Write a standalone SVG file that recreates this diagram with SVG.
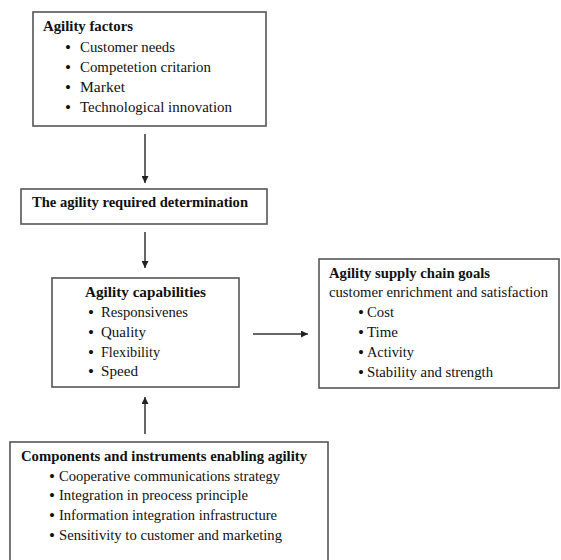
<svg xmlns="http://www.w3.org/2000/svg" width="561" height="560" viewBox="0 0 561 560">
<style>
.box{fill:#fff;stroke:#555;stroke-width:1.6}
text{font-family:"Liberation Serif","Times New Roman",serif;font-size:14px;fill:#111}
.b{font-weight:bold}
.u{font-size:17px}
.conn{stroke:#333;stroke-width:1.5;fill:none;marker-end:url(#ah)}
</style>
<defs>
<marker id="ah" viewBox="0 0 10 10" refX="10" refY="5" markerWidth="7" markerHeight="7" markerUnits="userSpaceOnUse" orient="auto">
<path d="M0,0 L10,5 L0,10 z" fill="#222"/>
</marker>
</defs>
<rect width="561" height="560" fill="#fff"/>
<g id="connectors">
<line class="conn" x1="145" y1="134" x2="145" y2="183"/>
<line class="conn" x1="145" y1="232" x2="145" y2="268"/>
<line class="conn" x1="253" y1="334" x2="308" y2="334"/>
<line class="conn" x1="145" y1="434" x2="145" y2="397"/>
</g>
<g id="agility-factors">
<rect class="box" x="33" y="12" width="233" height="114"/>
<text class="b" x="43" y="31" textLength="90" lengthAdjust="spacingAndGlyphs">Agility factors</text>
<text class="u" x="65" y="53">•</text><text x="80" y="52" textLength="95" lengthAdjust="spacingAndGlyphs">Customer needs</text>
<text class="u" x="65" y="73">•</text><text x="80" y="72" textLength="131" lengthAdjust="spacingAndGlyphs">Competetion critarion</text>
<text class="u" x="65" y="93">•</text><text x="80" y="92" textLength="45" lengthAdjust="spacingAndGlyphs">Market</text>
<text class="u" x="65" y="113">•</text><text x="80" y="112" textLength="152" lengthAdjust="spacingAndGlyphs">Technological innovation</text>
</g>
<g id="agility-required">
<rect class="box" x="21" y="189" width="246" height="35"/>
<text class="b" x="32" y="207" textLength="216" lengthAdjust="spacingAndGlyphs">The agility required determination</text>
</g>
<g id="agility-capabilities">
<rect class="box" x="52" y="278" width="187" height="109"/>
<text class="b" x="85" y="297" textLength="121" lengthAdjust="spacingAndGlyphs">Agility capabilities</text>
<text class="u" x="88" y="318">•</text><text x="101" y="317" textLength="87" lengthAdjust="spacingAndGlyphs">Responsivenes</text>
<text class="u" x="88" y="338">•</text><text x="101" y="337" textLength="45" lengthAdjust="spacingAndGlyphs">Quality</text>
<text class="u" x="88" y="358">•</text><text x="101" y="357" textLength="59" lengthAdjust="spacingAndGlyphs">Flexibility</text>
<text class="u" x="88" y="377">•</text><text x="101" y="376" textLength="37" lengthAdjust="spacingAndGlyphs">Speed</text>
</g>
<g id="supply-chain-goals">
<rect class="box" x="319" y="259" width="240" height="129"/>
<text class="b" x="329" y="278" textLength="161" lengthAdjust="spacingAndGlyphs">Agility supply chain goals</text>
<text x="329" y="297" textLength="219" lengthAdjust="spacingAndGlyphs">customer enrichment and satisfaction</text>
<text class="u" x="358" y="318">•</text><text x="367" y="317" textLength="27" lengthAdjust="spacingAndGlyphs">Cost</text>
<text class="u" x="358" y="338">•</text><text x="367" y="337" textLength="31" lengthAdjust="spacingAndGlyphs">Time</text>
<text class="u" x="358" y="358">•</text><text x="367" y="357" textLength="47" lengthAdjust="spacingAndGlyphs">Activity</text>
<text class="u" x="358" y="378">•</text><text x="367" y="377" textLength="126" lengthAdjust="spacingAndGlyphs">Stability and strength</text>
</g>
<g id="components-instruments">
<rect class="box" x="10" y="442" width="318" height="130"/>
<text class="b" x="21" y="461" textLength="286" lengthAdjust="spacingAndGlyphs">Components and instruments  enabling agility</text>
<text class="u" x="49" y="482">•</text><text x="59" y="481" textLength="221" lengthAdjust="spacingAndGlyphs">Cooperative communications strategy</text>
<text class="u" x="49" y="501">•</text><text x="59" y="500" textLength="189" lengthAdjust="spacingAndGlyphs">Integration in preocess principle</text>
<text class="u" x="49" y="521">•</text><text x="59" y="520" textLength="218" lengthAdjust="spacingAndGlyphs">Information integration infrastructure</text>
<text class="u" x="49" y="541">•</text><text x="59" y="540" textLength="223" lengthAdjust="spacingAndGlyphs">Sensitivity to customer and marketing</text>
</g>
</svg>
